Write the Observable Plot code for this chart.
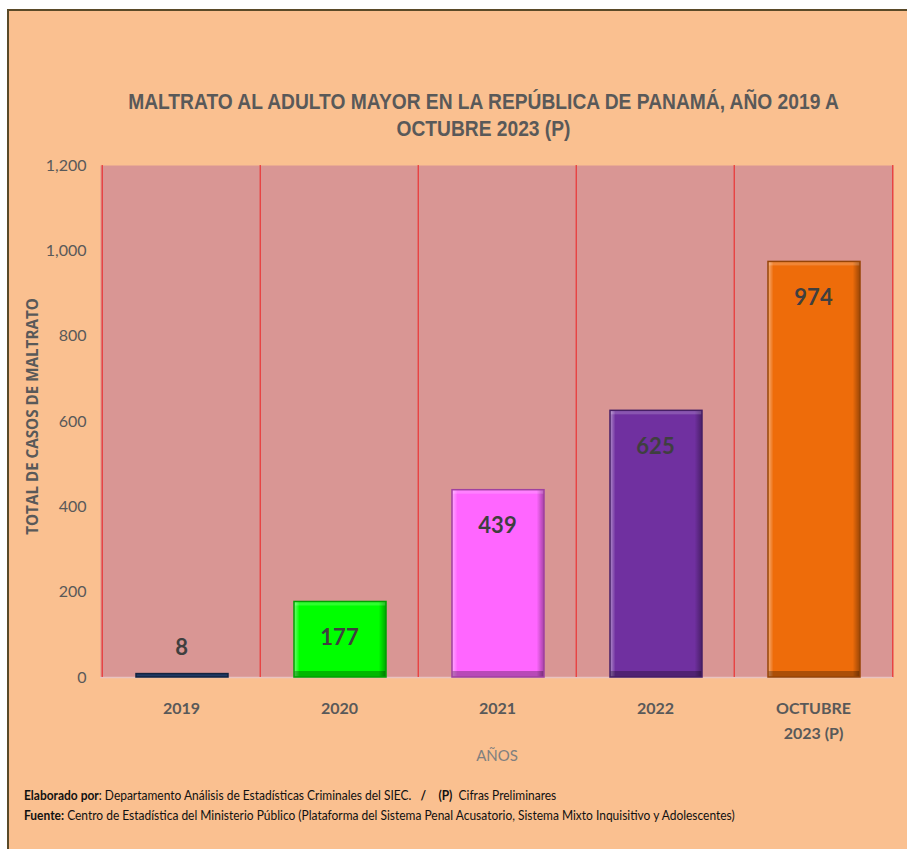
<!DOCTYPE html>
<html><head><meta charset="utf-8">
<script src="https://cdn.jsdelivr.net/npm/d3@7"></script>
<script src="https://cdn.jsdelivr.net/npm/@observablehq/plot@0.6"></script>
<style>
body{margin:0;background:#fff;}
#wrap{position:relative;width:907px;height:849px;overflow:hidden;}
#panel{position:absolute;left:7px;top:9px;width:900px;height:840px;background:#FAC090;border-top:2px solid #5a4a28;border-left:2px solid #5a4a28;box-sizing:border-box;}
#chart{position:absolute;left:0;top:0;}
#title{position:absolute;left:0;width:967px;top:88px;text-align:center;font-family:"Liberation Sans","Arial",sans-serif;font-weight:bold;font-size:22px;line-height:27px;color:#595959;transform:scaleX(0.873);}
#footer{position:absolute;left:24px;top:786px;font-family:Lato,sans-serif;font-size:12.5px;line-height:20px;color:#111;white-space:pre;transform:scaleX(0.958);transform-origin:0 0;}
</style></head>
<body>
<div id="wrap">
  <div id="panel"></div>
  <div id="chart"></div>
  <div id="title">MALTRATO AL ADULTO MAYOR EN LA REPÚBLICA DE PANAMÁ, AÑO 2019 A<br>OCTUBRE 2023 (P)</div>
  <div id="footer"><b>Elaborado por</b>: Departamento Análisis de Estadísticas Criminales del SIEC.   <b>/</b>    <b>(P)</b>  Cifras Preliminares
<b>Fuente:</b> Centro de Estadística del Ministerio Público (Plataforma del Sistema Penal Acusatorio, Sistema Mixto Inquisitivo y Adolescentes)</div>
</div>
<script>
const categories = ["2019", "2020", "2021", "2022", "OCTUBRE\n2023 (P)"];
const values = [8, 177, 439, 625, 974];
const yTicks = [0, 200, 400, 600, 800, 1000, 1200];
const palette = ["#1F3864", "#00FF00", "#FF66FF", "#7030A0", "#EE6C0A"];

const data = categories.map((c, i) => ({
  cat: c, value: values[i],
  fill: palette[i],
  stroke: d3.color(palette[i]).darker(1.3).formatHex()
}));
const tall = data.filter(d => d.value >= 50);
const short = data.filter(d => d.value < 50);

const W = 907, H = 849, mL = 100, mR = 14, mT = 165, mB = 172;
const bw = (W - mL - mR) / categories.length;
const font = "Lato, 'Open Sans', sans-serif";
const inset = {insetLeft: 34, insetRight: 32};

const chart = Plot.plot({
  width: W, height: H,
  marginLeft: mL, marginRight: mR, marginTop: mT, marginBottom: mB,
  style: {background: "transparent", fontFamily: font},
  x: {domain: categories, padding: 0, label: null},
  y: {domain: [0, 1200], label: null},
  marks: [
    Plot.frame({fill: "#D99694", stroke: null}),
    Plot.ruleY([0], {stroke: "#e9c4c0", strokeWidth: 1.5}),
    Plot.ruleX(categories, {x: d => d, dx: -bw / 2, stroke: "#ee2020", strokeWidth: 1}),
    Plot.ruleX([categories[categories.length - 1]], {x: d => d, dx: bw / 2, stroke: "#ee2020", strokeWidth: 1}),
    Plot.barY(data, {x: "cat", y: "value", fill: "fill", ...inset}),
    // bevel shading
    Plot.barY(tall, {x: "cat", y: "value", fill: "url(#bevelH)", ...inset}),
    Plot.barY(tall, {x: "cat", y1: 0, y2: 0, insetTop: -6, fill: "#000", fillOpacity: 0.28, ...inset}),
    Plot.barY(tall, {x: "cat", y1: "value", y2: "value", insetBottom: -4, fill: "#fff", fillOpacity: 0.18, ...inset}),
    Plot.barY(data, {x: "cat", y: "value", fill: "none", stroke: "stroke", strokeWidth: 1.5, ...inset}),
    Plot.text(tall, {x: "cat", y: "value", text: d => String(d.value), dy: 36, fontSize: 22, fontWeight: "bold", fill: "#3f3f3f"}),
    Plot.text(short, {x: "cat", y: "value", text: d => String(d.value), dy: -26, fontSize: 22, fontWeight: "bold", fill: "#3f3f3f"}),
    Plot.axisY({ticks: yTicks, tickFormat: d3.format(","), tickSize: 0, tickPadding: 14, fontSize: 16, fill: "#595959", label: null}),
    Plot.axisX({tickSize: 0, tickPadding: 19, fontSize: 16, fontWeight: "bold", fill: "#595959", lineHeight: 1.55, label: null}),
    Plot.text(["TOTAL DE CASOS DE MALTRATO"], {frameAnchor: "left", textAnchor: "middle", rotate: -90, dx: -67, dy: -5, fontSize: 15.2, fontWeight: "bold", fontFamily: "'Open Sans', sans-serif", fill: "#595959"}),
    Plot.text(["AÑOS"], {frameAnchor: "bottom", dy: 83, fontSize: 15, fill: "#7f7f7f"})
  ]
});
const defs = d3.select(chart).insert("defs", ":first-child");
const g = defs.append("linearGradient").attr("id", "bevelH").attr("x1", 0).attr("x2", 1).attr("y1", 0).attr("y2", 0);
[[0, "#fff", 0.45], [0.06, "#fff", 0], [0.92, "#000", 0], [1, "#000", 0.35]].forEach(([o, c, a]) =>
  g.append("stop").attr("offset", o).attr("stop-color", c).attr("stop-opacity", a));
document.getElementById("chart").appendChild(chart);
</script>
</body></html>
